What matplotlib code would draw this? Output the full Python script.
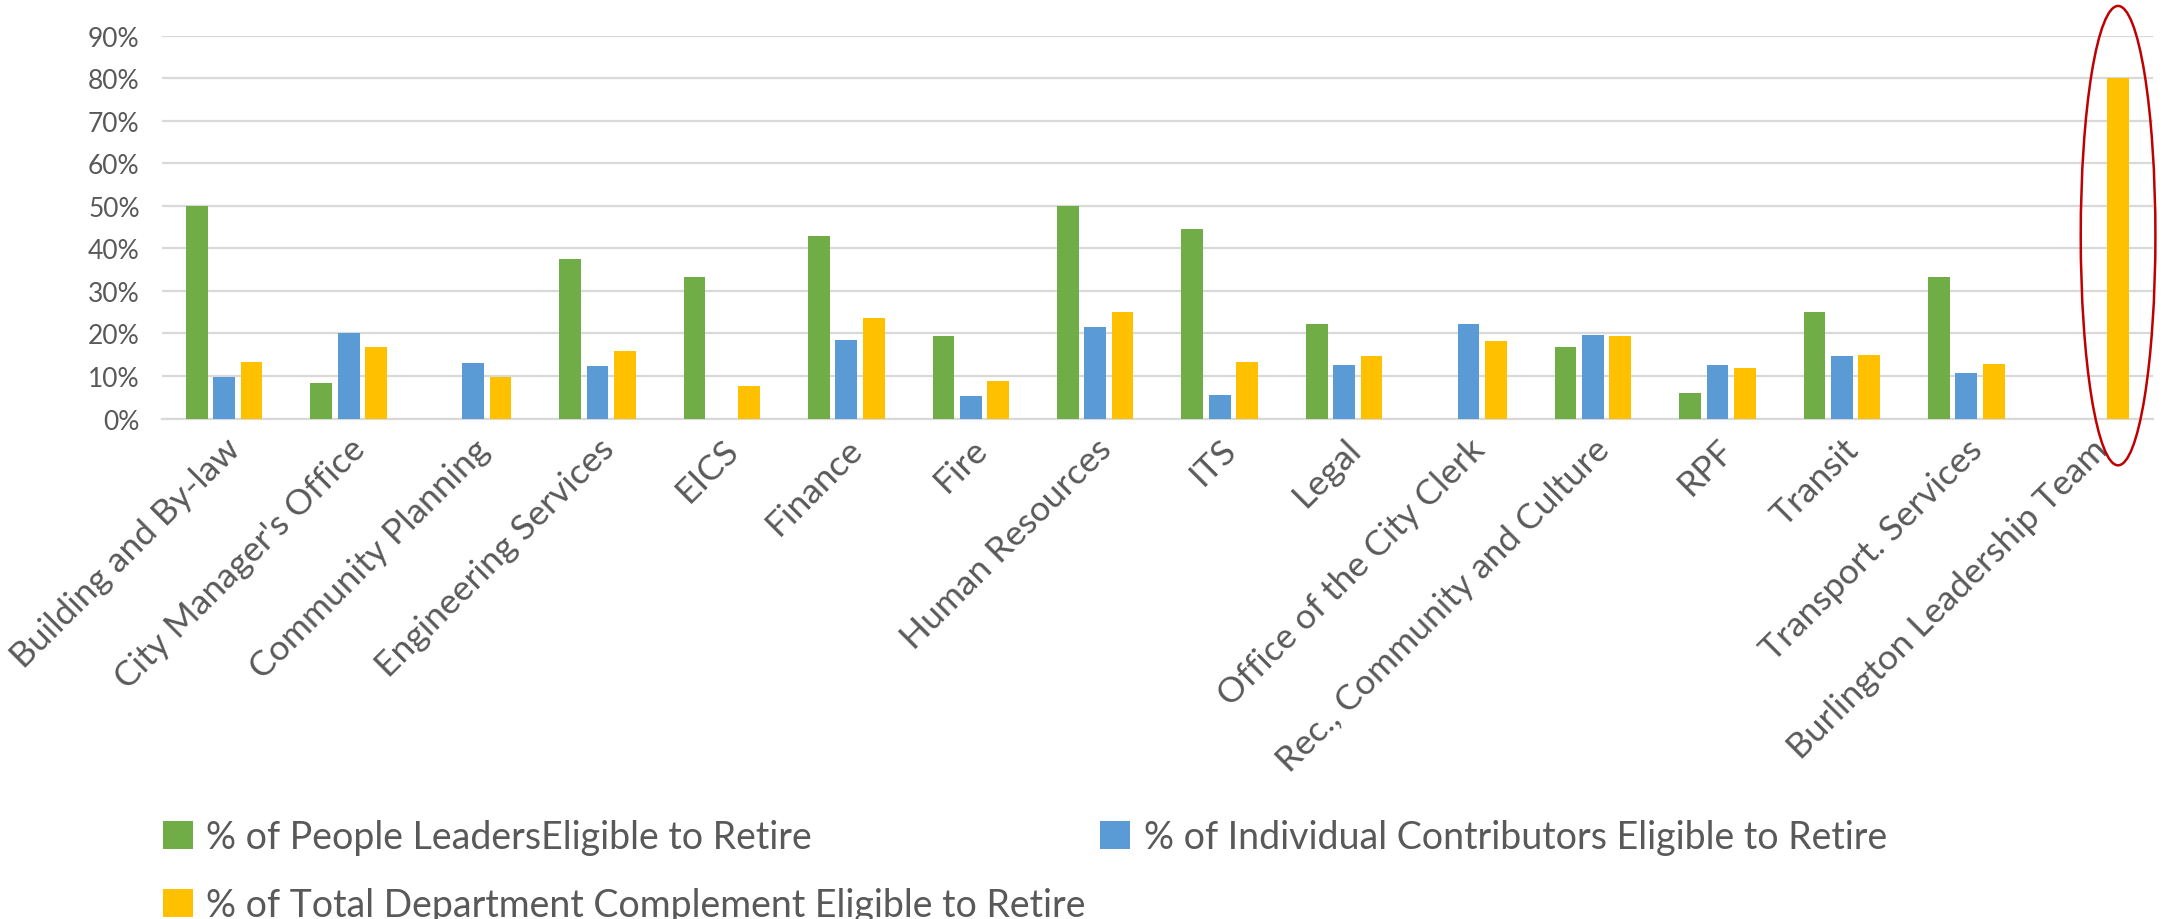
import numpy as np
import matplotlib
matplotlib.use("Agg")
import matplotlib.pyplot as plt
from matplotlib.patches import Ellipse
from matplotlib.ticker import PercentFormatter

departments = [
    "Building and By-law", "City Manager's Office", "Community Planning",
    "Engineering Services", "EICS", "Finance", "Fire", "Human Resources",
    "ITS", "Legal", "Office of the City Clerk", "Rec., Community and Culture",
    "RPF", "Transit", "Transport. Services", "Burlington Leadership Team",
]
leaders = [0.50, 0.084, 0.0, 0.376, 0.333, 0.429, 0.193, 0.50,
           0.445, 0.222, 0.0, 0.167, 0.059, 0.25, 0.333, 0.0]
contributors = [0.098, 0.20, 0.131, 0.123, 0.0, 0.185, 0.054, 0.214,
                0.056, 0.126, 0.222, 0.196, 0.126, 0.147, 0.107, 0.0]
total = [0.133, 0.167, 0.097, 0.159, 0.077, 0.236, 0.088, 0.25,
         0.134, 0.146, 0.182, 0.194, 0.119, 0.15, 0.128, 0.80]

series_names = [
    "% of People LeadersEligible to Retire",
    "% of Individual Contributors Eligible to Retire",
    "% of Total Department Complement Eligible to Retire",
]
colors = ["#70AD47", "#5B9BD5", "#FFC000"]

plt.rcParams['font.family'] = ['Lato', 'DejaVu Sans']
text_color = "#595959"

fig = plt.figure(figsize=(21.74, 9.2), dpi=100)
ax = fig.add_axes([0.0745, 0.544, 0.9158, 0.4161])

x = np.arange(len(departments))
step = 0.22
width = 0.175
bars = []
for i, (vals, c) in enumerate(zip([leaders, contributors, total], colors)):
    b = ax.bar(x + (i - 1) * step, vals, width, color=c, label=series_names[i], zorder=3)
    bars.append(b)

ax.set_xlim(-0.5, len(departments) - 0.5)
ax.set_ylim(0, 0.9)
ax.set_yticks(np.arange(0, 0.91, 0.1))
ax.yaxis.set_major_formatter(PercentFormatter(1.0, decimals=0))
ax.grid(axis='y', color='#D9D9D9', linewidth=1.6, zorder=0)
for s in ['top', 'right', 'left']:
    ax.spines[s].set_visible(False)
ax.spines['bottom'].set_color('#D9D9D9')
ax.spines['bottom'].set_linewidth(1.6)
ax.tick_params(axis='both', length=0, colors=text_color)
ax.tick_params(axis='y', labelsize=19, pad=16)
ax.set_xticks(x)
ax.set_xticklabels(departments, rotation=45, ha='right', rotation_mode='anchor',
                   fontsize=25.5, color=text_color)
ax.tick_params(axis='x', pad=10)

# red ellipse highlighting the leadership team bar
last = len(departments) - 1
ell = Ellipse((last + step, 0.43), 0.6, 1.08, fill=False, edgecolor='#C00000',
              linewidth=1.8, clip_on=False, zorder=4)
ax.add_patch(ell)

handles = [bars[0], bars[2], bars[1]]
labels = [series_names[0], series_names[2], series_names[1]]
leg = fig.legend(handles, labels, loc='upper left', bbox_to_anchor=(0.068, 0.125),
                 ncol=2, frameon=False, fontsize=27, handlelength=0.8,
                 handleheight=0.8, handletextpad=0.35, columnspacing=0.4,
                 labelspacing=0.85, borderaxespad=0)
for t in leg.get_texts():
    t.set_color(text_color)

fig.savefig("out.png", dpi=100)
